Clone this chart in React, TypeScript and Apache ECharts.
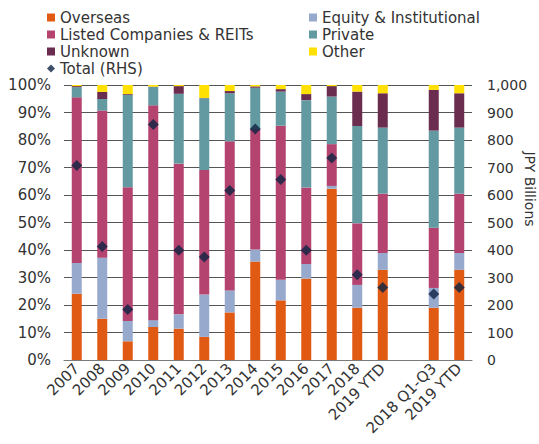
import React, { useEffect, useRef } from "react";
import * as echarts from "echarts";

const categories = ["2007", "2008", "2009", "2010", "2011", "2012", "2013", "2014", "2015", "2016", "2017", "2018", "2019 YTD", "", "2018 Q1-Q3", "2019 YTD"];
// shares (%) read from the stacked segments
const overseas = [24.1, 15.0, 6.8, 12.0, 11.4, 8.4, 17.3, 35.8, 21.7, 29.6, 62.3, 19.0, 32.8, null, 19.0, 32.8];
const equity = [11.2, 22.2, 7.4, 2.5, 5.2, 15.4, 8.0, 4.4, 7.5, 5.3, 1.0, 8.3, 6.1, null, 7.2, 6.1];
const listed = [60.2, 53.5, 48.6, 78.1, 54.8, 45.3, 54.2, 43.8, 56.0, 27.8, 15.2, 22.4, 21.6, null, 21.9, 21.6];
const privateCo = [3.7, 4.2, 33.6, 6.7, 25.4, 26.1, 17.5, 15.0, 12.4, 31.8, 17.3, 35.4, 24.0, null, 35.3, 24.0];
const unknown = [0.4, 2.6, 0.3, 0.1, 2.8, 0.1, 0.8, 0.5, 0.9, 2.2, 3.8, 12.5, 12.5, null, 14.8, 12.5];
const other = [0.4, 2.5, 3.3, 0.6, 0.4, 4.7, 2.2, 0.5, 1.5, 3.3, 0.4, 2.4, 3.0, null, 1.8, 3.0];
const totalRHS = [707, 413, 184, 856, 399, 375, 616, 840, 656, 399, 735, 310, 264, null, 240, 264];

const leftTicks = { min: 0, max: 100, interval: 10 };
const rightTicks = { min: 0, max: 1000, interval: 100 };

const FONT = "DejaVu Sans";
const TEXT = "#333333";

export default function App() {
  const ref = useRef<HTMLDivElement>(null);
  useEffect(() => {
    document.body.style.margin = "0";
    if (!ref.current) return;
    const chart = echarts.init(ref.current, null, { renderer: "svg" });
    const barSeries = (name: string, data: (number | null)[], color: string) => ({
      name,
      type: "bar",
      stack: "share",
      data,
      barWidth: 10,
      itemStyle: { color },
      emphasis: { disabled: true },
    });
    const legendText = { color: TEXT, fontFamily: FONT, fontSize: 15, lineHeight: 15 };
    chart.setOption({
      animation: false,
      textStyle: { fontFamily: FONT },
      legend: [
        {
          orient: "vertical",
          left: 47,
          top: 10,
          padding: 0,
          itemWidth: 8,
          itemHeight: 8,
          itemGap: 2,
          itemTextGap: 6,
          textStyle: legendText,
          data: [
            { name: "Overseas", icon: "rect" },
            { name: "Listed Companies & REITs", icon: "rect" },
            { name: "Unknown", icon: "rect" },
            { name: "Total (RHS)", icon: "diamond" },
          ],
        },
        {
          orient: "vertical",
          left: 309,
          top: 10,
          padding: 0,
          itemWidth: 8,
          itemHeight: 8,
          itemGap: 2,
          itemTextGap: 5,
          textStyle: legendText,
          data: [
            { name: "Equity & Institutional", icon: "rect" },
            { name: "Private", icon: "rect" },
            { name: "Other", icon: "rect" },
          ],
        },
      ],
      grid: { left: 64, right: 67, top: 85, bottom: 84, containLabel: false },
      xAxis: {
        type: "category",
        data: categories,
        axisLine: { show: true, lineStyle: { color: "#7a7a7a", width: 1 } },
        axisTick: { show: false },
        axisLabel: {
          interval: 0,
          rotate: 45,
          color: TEXT,
          fontFamily: FONT,
          fontSize: 15,
          margin: 6,
        },
      },
      yAxis: [
        {
          type: "value",
          ...leftTicks,
          axisLine: { show: false },
          axisTick: { show: false },
          splitLine: { show: true, lineStyle: { color: "#555555", width: 1 } },
          axisLabel: { formatter: "{value}%", color: TEXT, fontFamily: FONT, fontSize: 15, margin: 13 },
        },
        {
          type: "value",
          ...rightTicks,
          axisLine: { show: false },
          axisTick: { show: false },
          splitLine: { show: false },
          axisLabel: {
            color: TEXT,
            fontFamily: FONT,
            fontSize: 14,
            margin: 15,
            formatter: (v: number) => v.toLocaleString("en-US"),
          },
        },
      ],
      graphic: [
        {
          type: "text",
          x: 530,
          y: 189,
          rotation: -Math.PI / 2,
          style: {
            text: "JPY Billions",
            fill: TEXT,
            fontFamily: FONT,
            fontSize: 14,
            align: "center",
            verticalAlign: "middle",
          },
        },
      ],
      series: [
        barSeries("Overseas", overseas, "#E05A14"),
        barSeries("Equity & Institutional", equity, "#97A9CD"),
        barSeries("Listed Companies & REITs", listed, "#B4446F"),
        barSeries("Private", privateCo, "#6399A1"),
        barSeries("Unknown", unknown, "#6A2D50"),
        barSeries("Other", other, "#FFE000"),
        {
          name: "Total (RHS)",
          type: "scatter",
          yAxisIndex: 1,
          data: totalRHS,
          symbol: "diamond",
          symbolSize: 11,
          itemStyle: { color: "#0E2344" },
          emphasis: { disabled: true },
          z: 10,
        },
      ],
    });
    return () => chart.dispose();
  }, []);
  return <div ref={ref} style={{ width: 539, height: 444 }} />;
}
